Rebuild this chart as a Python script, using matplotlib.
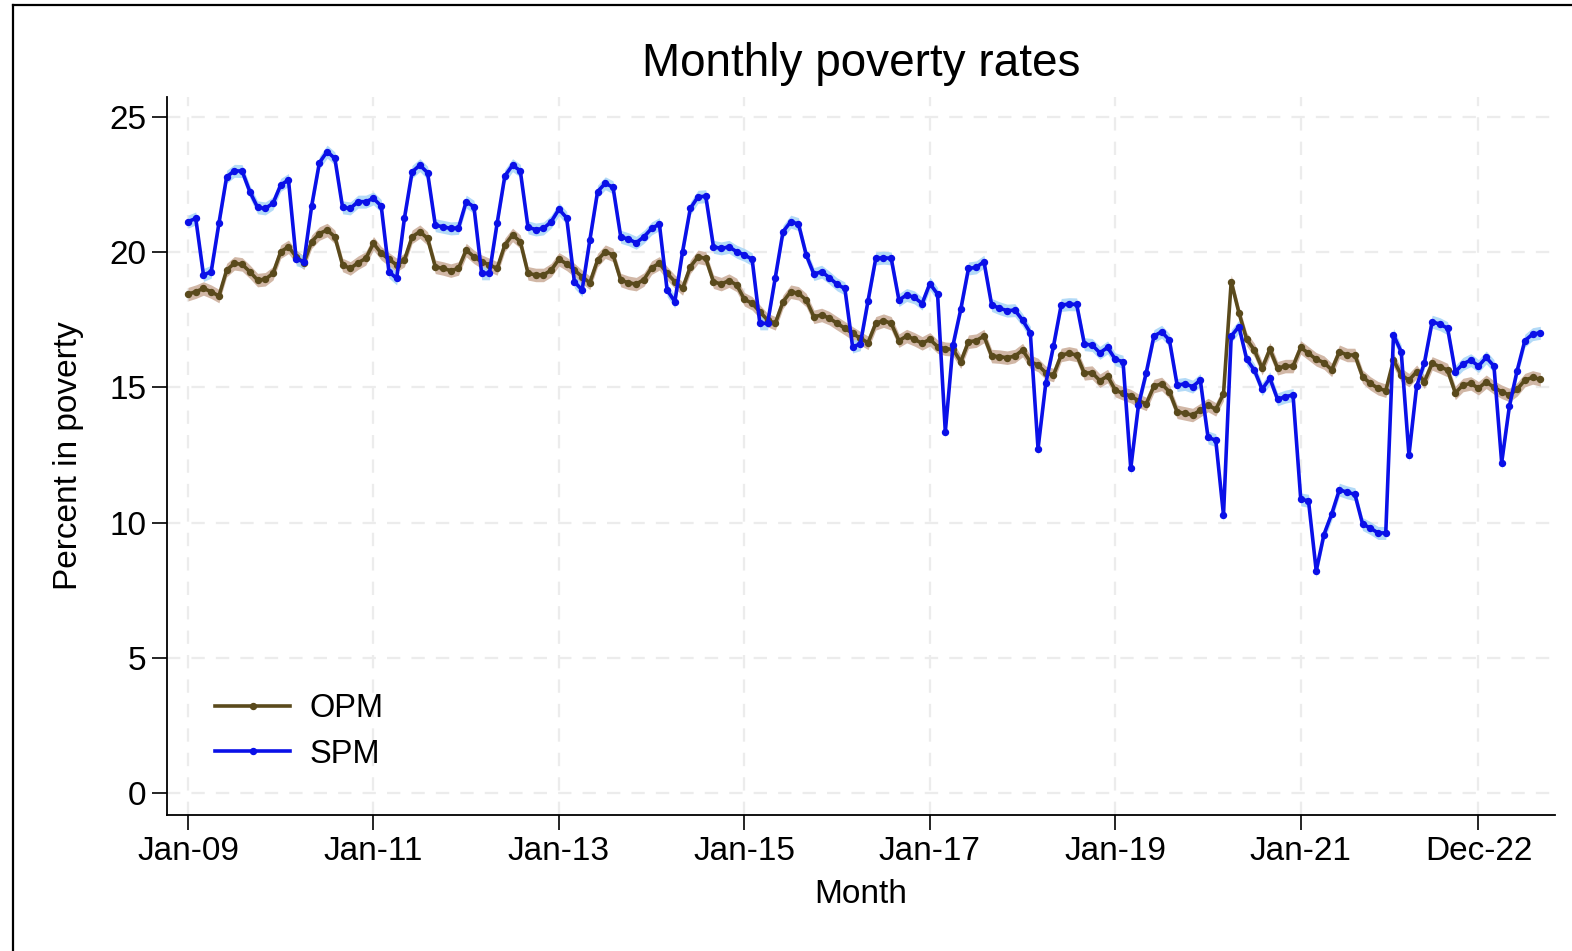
import numpy as np
import matplotlib
matplotlib.use("Agg")
import matplotlib.pyplot as plt
from matplotlib.lines import Line2D

plt.rcParams['font.family'] = ['Liberation Sans', 'DejaVu Sans']

# monthly series, Jan 2009 .. Aug 2023
spm = [
    21.13, 21.25, 19.16, 19.28, 21.07, 22.79, 23.01, 23.00, 22.24, 21.66, 21.62, 21.81,  # 2009
    22.49, 22.67, 19.74, 19.65, 21.71, 23.31, 23.72, 23.47, 21.66, 21.62, 21.87, 21.87,  # 2010
    21.99, 21.71, 19.28, 19.03, 21.25, 22.97, 23.22, 22.94, 21.00, 20.94, 20.88, 20.90,  # 2011
    21.87, 21.68, 19.22, 19.22, 21.07, 22.82, 23.22, 23.01, 20.92, 20.84, 20.88, 21.13,  # 2012
    21.59, 21.27, 18.91, 18.60, 20.45, 22.24, 22.55, 22.40, 20.57, 20.48, 20.35, 20.57,  # 2013
    20.88, 21.04, 18.60, 18.17, 20.02, 21.62, 22.05, 22.07, 20.20, 20.14, 20.20, 20.02,  # 2014
    19.90, 19.74, 17.37, 17.37, 19.06, 20.76, 21.13, 21.04, 19.90, 19.19, 19.28, 19.06,  # 2015
    18.81, 18.66, 16.51, 16.60, 18.20, 19.77, 19.80, 19.77, 18.23, 18.42, 18.33, 18.10,  # 2016
    18.84, 18.45, 13.36, 16.57, 17.89, 19.40, 19.44, 19.65, 18.05, 17.93, 17.84, 17.86,  # 2017
    17.49, 17.02, 12.74, 15.15, 16.53, 18.05, 18.08, 18.07, 16.60, 16.57, 16.28, 16.48,  # 2018
    16.04, 15.95, 12.01, 14.35, 15.54, 16.90, 17.06, 16.75, 15.09, 15.13, 15.03, 15.27,  # 2019
    13.15, 13.05, 10.28, 16.90, 17.25, 16.04, 15.64, 14.93, 15.34, 14.56, 14.66, 14.72,  # 2020
    10.86, 10.81, 8.22, 9.56, 10.32, 11.22, 11.12, 11.05, 9.95, 9.80, 9.62, 9.62,        # 2021
    16.94, 16.32, 12.50, 15.05, 15.91, 17.43, 17.34, 17.19, 15.58, 15.87, 16.01, 15.79,  # 2022
    16.11, 15.79, 12.22, 14.31, 15.62, 16.73, 16.97, 17.02,                              # 2023
]
opm = [
    18.45, 18.54, 18.66, 18.54, 18.38, 19.34, 19.59, 19.55, 19.28, 18.97, 19.00, 19.22,  # 2009
    20.02, 20.20, 19.83, 19.61, 20.39, 20.69, 20.82, 20.57, 19.53, 19.40, 19.61, 19.77,  # 2010
    20.33, 19.96, 19.74, 19.53, 19.71, 20.57, 20.76, 20.51, 19.46, 19.40, 19.32, 19.40,  # 2011
    20.08, 19.83, 19.65, 19.53, 19.40, 20.27, 20.64, 20.39, 19.22, 19.16, 19.16, 19.34,  # 2012
    19.74, 19.57, 19.34, 19.09, 18.87, 19.71, 20.02, 19.90, 18.97, 18.87, 18.82, 18.99,  # 2013
    19.43, 19.59, 19.22, 18.91, 18.66, 19.46, 19.83, 19.77, 18.91, 18.82, 18.95, 18.79,  # 2014
    18.26, 18.11, 17.80, 17.49, 17.37, 18.17, 18.54, 18.48, 18.23, 17.61, 17.68, 17.56,  # 2015
    17.37, 17.19, 17.00, 16.82, 16.65, 17.37, 17.47, 17.37, 16.73, 16.90, 16.78, 16.63,  # 2016
    16.78, 16.51, 16.43, 16.41, 15.95, 16.69, 16.73, 16.90, 16.16, 16.14, 16.10, 16.16,  # 2017
    16.38, 15.95, 15.83, 15.54, 15.46, 16.20, 16.26, 16.20, 15.52, 15.55, 15.25, 15.42,  # 2018
    14.90, 14.78, 14.68, 14.51, 14.39, 15.05, 15.13, 14.84, 14.10, 14.04, 13.98, 14.16,  # 2019
    14.35, 14.19, 14.76, 18.91, 17.76, 16.78, 16.38, 15.71, 16.41, 15.71, 15.79, 15.79,  # 2020
    16.48, 16.26, 16.04, 15.92, 15.65, 16.32, 16.20, 16.20, 15.40, 15.15, 14.97, 14.88,  # 2021
    16.01, 15.46, 15.27, 15.58, 15.21, 15.89, 15.77, 15.64, 14.80, 15.09, 15.15, 14.97,  # 2022
    15.21, 15.00, 14.84, 14.72, 14.93, 15.27, 15.37, 15.30,                              # 2023
]
# half-width of the shaded confidence bands (percentage points)
opm_ci = 0.25
spm_ci = 0.24

tick_months = [0, 24, 48, 72, 96, 120, 144, 167]
tick_labels = ["Jan-09", "Jan-11", "Jan-13", "Jan-15", "Jan-17", "Jan-19", "Jan-21", "Dec-22"]

opm_col = "#5a4a1c"
opm_band = "#c9ab97"
spm_col = "#0a10e8"
spm_band = "#a6d4f6"

t = np.arange(len(spm))
spm = np.array(spm)
opm = np.array(opm)

fig = plt.figure(figsize=(15.72, 9.51), dpi=100)
ax = fig.add_axes([167/1572, 1-815/951, (1555-167)/1572, (815-97)/951])

# grid first so everything sits on top of it
for yv in range(0, 26, 5):
    ax.axhline(yv, color="#ececec", lw=1.6, ls=(0, (6, 5)), zorder=0)
for xv in tick_months:
    ax.axvline(xv, color="#ececec", lw=1.6, ls=(0, (6, 5)), zorder=0)

ax.fill_between(t, opm - opm_ci, opm + opm_ci, color=opm_band, lw=0, alpha=0.85, zorder=1)
ax.fill_between(t, spm - spm_ci, spm + spm_ci, color=spm_band, lw=0, alpha=0.85, zorder=1)
ax.plot(t, opm, color=opm_col, lw=2.6, marker="o", ms=4.3, zorder=3)
ax.plot(t, spm, color=spm_col, lw=2.6, marker="o", ms=4.3, zorder=4)

ax.set_xlim(-2.72, 176.9)
ax.set_ylim(-0.81, 25.74)
ax.set_xticks(tick_months)
ax.set_xticklabels(tick_labels)
ax.set_yticks(range(0, 26, 5))
ax.tick_params(axis="both", labelsize=24, length=11, width=1.2, color="black", pad=4)
ax.spines["top"].set_visible(False)
ax.spines["right"].set_visible(False)
ax.spines["left"].set_linewidth(1.3)
ax.spines["bottom"].set_linewidth(1.3)

ax.set_title("Monthly poverty rates", fontsize=33, pad=15)
ax.set_xlabel("Month", fontsize=24, labelpad=9)
ax.set_ylabel("Percent in poverty", fontsize=24, labelpad=18)

handles = [Line2D([0, 0.5, 1], [0, 0, 0], color=opm_col, lw=2.6, marker="o", ms=4.3, markevery=[1]),
           Line2D([0, 0.5, 1], [0, 0, 0], color=spm_col, lw=2.6, marker="o", ms=4.3, markevery=[1])]
leg = ax.legend(handles, ["OPM", "SPM"], loc="upper left",
                bbox_to_anchor=(215/1572, 1-693/951), bbox_transform=fig.transFigure,
                frameon=False, fontsize=23.5, borderpad=0, borderaxespad=0,
                handlelength=2.3, handletextpad=0.6, labelspacing=0.45)

# outer border of the graph region
fig.add_artist(Line2D([13/1572, 13/1572], [0, 1-5/951], color="black", lw=1.6))
fig.add_artist(Line2D([13/1572, 1], [1-5/951, 1-5/951], color="black", lw=1.6))

fig.savefig("out.png", dpi=100)
